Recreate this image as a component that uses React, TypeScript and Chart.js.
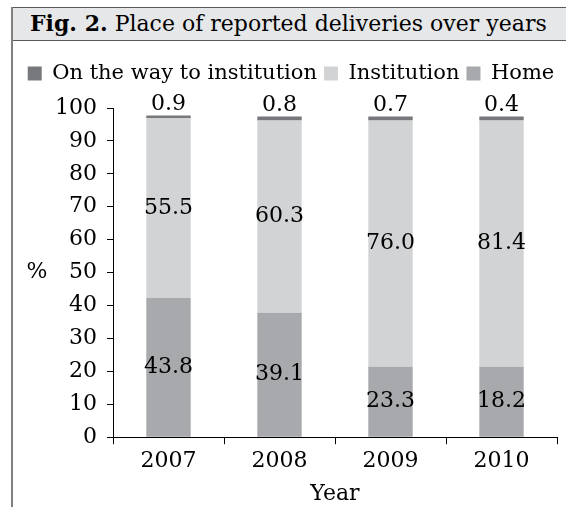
import React, { useEffect, useRef } from "react";
import { Chart, registerables } from "chart.js";

Chart.register(...registerables);

const years = ["2007", "2008", "2009", "2010"];
// bar heights as drawn in the figure
const homeValues = [42.3, 37.8, 21.4, 21.4];
const institutionValues = [54.7, 58.4, 74.8, 74.8];
const wayValues = [0.7, 1.2, 1.2, 1.2];
// printed labels
const homeLabels = ["43.8", "39.1", "23.3", "18.2"];
const institutionLabels = ["55.5", "60.3", "76.0", "81.4"];
const wayLabels = ["0.9", "0.8", "0.7", "0.4"];

const FONT = '"DejaVu Serif", serif';
const FS = 22;

const labelPlugin = {
  id: "barLabels",
  afterLayout(chart: any) {
    const lg = chart.legend;
    if (lg) {
      lg.left += 6;
      lg.right += 6;
      lg.top -= 14;
      lg.bottom -= 14;
    }
  },
  afterDatasetsDraw(chart: any) {
    const ctx = chart.ctx;
    ctx.save();
    ctx.font = `${FS}px ${FONT}`;
    ctx.fillStyle = "#000";
    ctx.textAlign = "center";
    ctx.textBaseline = "middle";
    chart.data.datasets.forEach((ds: any, di: number) => {
      const meta = chart.getDatasetMeta(di);
      meta.data.forEach((bar: any, i: number) => {
        const txt = ds.valueLabels[i];
        if (ds.labelAbove) {
          ctx.fillText(txt, bar.x, bar.y - 11);
        } else {
          ctx.fillText(txt, bar.x, (bar.y + bar.base) / 2);
        }
      });
    });
    // y-axis title "%" (horizontal)
    const ca = chart.chartArea;
    ctx.fillText("%", 24, (ca.top + ca.bottom) / 2);
    ctx.restore();
  },
};

export default function App() {
  const ref = useRef<HTMLCanvasElement>(null);
  useEffect(() => {
    const chart = new Chart(ref.current!, {
      type: "bar",
      data: {
        labels: years,
        datasets: [
          { label: "Home", data: homeValues, backgroundColor: "#a7a9ac", borderWidth: 0, valueLabels: homeLabels } as any,
          { label: "Institution", data: institutionValues, backgroundColor: "#d1d3d4", borderWidth: 0, valueLabels: institutionLabels } as any,
          { label: "On the way to institution", data: wayValues, backgroundColor: "#77787b", borderWidth: 0, valueLabels: wayLabels, labelAbove: true } as any,
        ],
      },
      options: {
        animation: false,
        responsive: false,
        maintainAspectRatio: false,
        layout: { padding: { left: 0, right: 9, top: 29, bottom: 0 } },
        datasets: { bar: { categoryPercentage: 1, barPercentage: 0.4 } },
        plugins: {
          tooltip: { enabled: false },
          legend: {
            display: true,
            position: "top",
            reverse: true,
            labels: {
              boxWidth: 14,
              boxHeight: 14,
              padding: 7,
              color: "#000",
              font: { family: FONT, size: 21 },
            },
          },
        },
        scales: {
          x: {
            stacked: true,
            grid: { display: true, drawOnChartArea: false, drawTicks: true, tickLength: 7, color: "#000", offset: true },
            border: { display: true, color: "#000", width: 1 },
            ticks: { color: "#000", font: { family: FONT, size: FS }, padding: 4 },
            title: { display: true, text: "Year", color: "#000", font: { family: FONT, size: FS }, padding: { top: 2, bottom: 0 } },
          },
          y: {
            stacked: true,
            min: 0,
            max: 100,
            afterFit(axis: any) {
              axis.width = 100;
            },
            grid: { display: true, drawOnChartArea: false, drawTicks: true, tickLength: 6, color: "#000" },
            border: { display: true, color: "#000", width: 1 },
            ticks: { stepSize: 10, autoSkip: false, color: "#000", font: { family: FONT, size: FS }, padding: 10 },
          },
        },
      },
      plugins: [labelPlugin],
    });
    return () => chart.destroy();
  }, []);

  return (
    <div
      style={{
        position: "absolute",
        left: 11,
        top: 7,
        width: 555,
        height: 500,
        borderLeft: "2px solid #808080",
        boxSizing: "border-box",
        overflow: "hidden",
      }}
    >
      <div
        style={{
          height: 34,
          borderTop: "1px solid #58595b",
          borderBottom: "1px solid #58595b",
          background: "#e6e7e8",
          boxSizing: "border-box",
          fontFamily: FONT,
          fontSize: FS,
          lineHeight: "31px",
          paddingLeft: 17,
          whiteSpace: "nowrap",
          color: "#000",
        }}
      >
        <b>Fig. 2.</b> Place of reported deliveries over years
      </div>
      <canvas ref={ref} width={553} height={466} style={{ display: "block", width: 553, height: 466 }} />
    </div>
  );
}
